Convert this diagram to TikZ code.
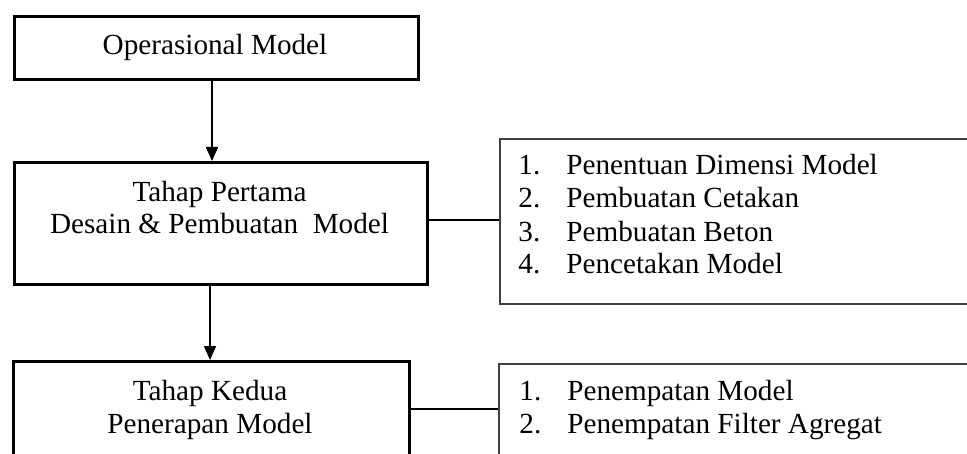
\documentclass[tikz,border=0pt]{standalone}
\usepackage{fontspec}
\setmainfont{Liberation Serif}
\usetikzlibrary{arrows.meta}

\tikzset{
  stagebox/.style={draw, line width=1.3pt, anchor=north west, inner sep=0pt},
  listbox/.style={draw=black!75, line width=0.8pt, anchor=north west, inner sep=0pt},
  boxtext/.style={anchor=base, inner sep=0pt, font=\fontsize{14.6}{16.5}\selectfont},
  flow/.style={line width=0.75pt, -{Triangle[length=7pt,width=6pt]}},
  link/.style={line width=0.75pt}
}
\newcommand{\itm}[2]{\makebox[24pt][l]{#1}#2}

\begin{document}
\begin{tikzpicture}[x=0.5pt, y=-0.5pt]
  \clip (0,0) rectangle (967,454);
  % stage boxes
  \node[stagebox, minimum width=202pt, minimum height=31.5pt] (opbox) at (13,15) {};
  \node[stagebox, minimum width=206.5pt, minimum height=61pt] (firstbox) at (13,161) {};
  \node[stagebox, minimum width=198pt, minimum height=100pt] (secondbox) at (12,360) {};
  \node[boxtext] (optext) at (215,55) {Operasional Model};
  \node[boxtext] (firsttext) at (219.5,201) {\begin{tabular}[t]{@{}c@{}}Tahap Pertama\\Desain \& Pembuatan\ \ Model\end{tabular}};
  \node[boxtext] (secondtext) at (210,400) {\begin{tabular}[t]{@{}c@{}}Tahap Kedua\\Penerapan Model\end{tabular}};

  % detail lists
  \node[listbox, minimum width=300pt, minimum height=82.5pt] (firstlist) at (499,138) {};
  \node[listbox, minimum width=300pt, minimum height=100pt] (secondlist) at (498,363) {};
  \node[boxtext, anchor=base west] (firstitems) at (518,175) {\begin{tabular}[t]{@{}l@{}}
    \itm{1.}{Penentuan Dimensi Model}\\
    \itm{2.}{Pembuatan Cetakan}\\
    \itm{3.}{Pembuatan Beton}\\
    \itm{4.}{Pencetakan Model}\end{tabular}};
  \node[boxtext, anchor=base west] (seconditems) at (519,400) {\begin{tabular}[t]{@{}l@{}}
    \itm{1.}{Penempatan Model}\\
    \itm{2.}{Penempatan Filter Agregat}\end{tabular}};

  % connectors
  \draw[flow] (opbox.south -| 212,0) -- (firstbox.north -| 212,0);
  \draw[flow] (firstbox.south -| 210,0) -- (secondbox.north -| 210,0);
  \draw[link] (firstbox.east |- 0,220) -- (firstlist.west |- 0,220);
  \draw[link] (secondbox.east |- 0,409) -- (secondlist.west |- 0,409);
\end{tikzpicture}
\end{document}
